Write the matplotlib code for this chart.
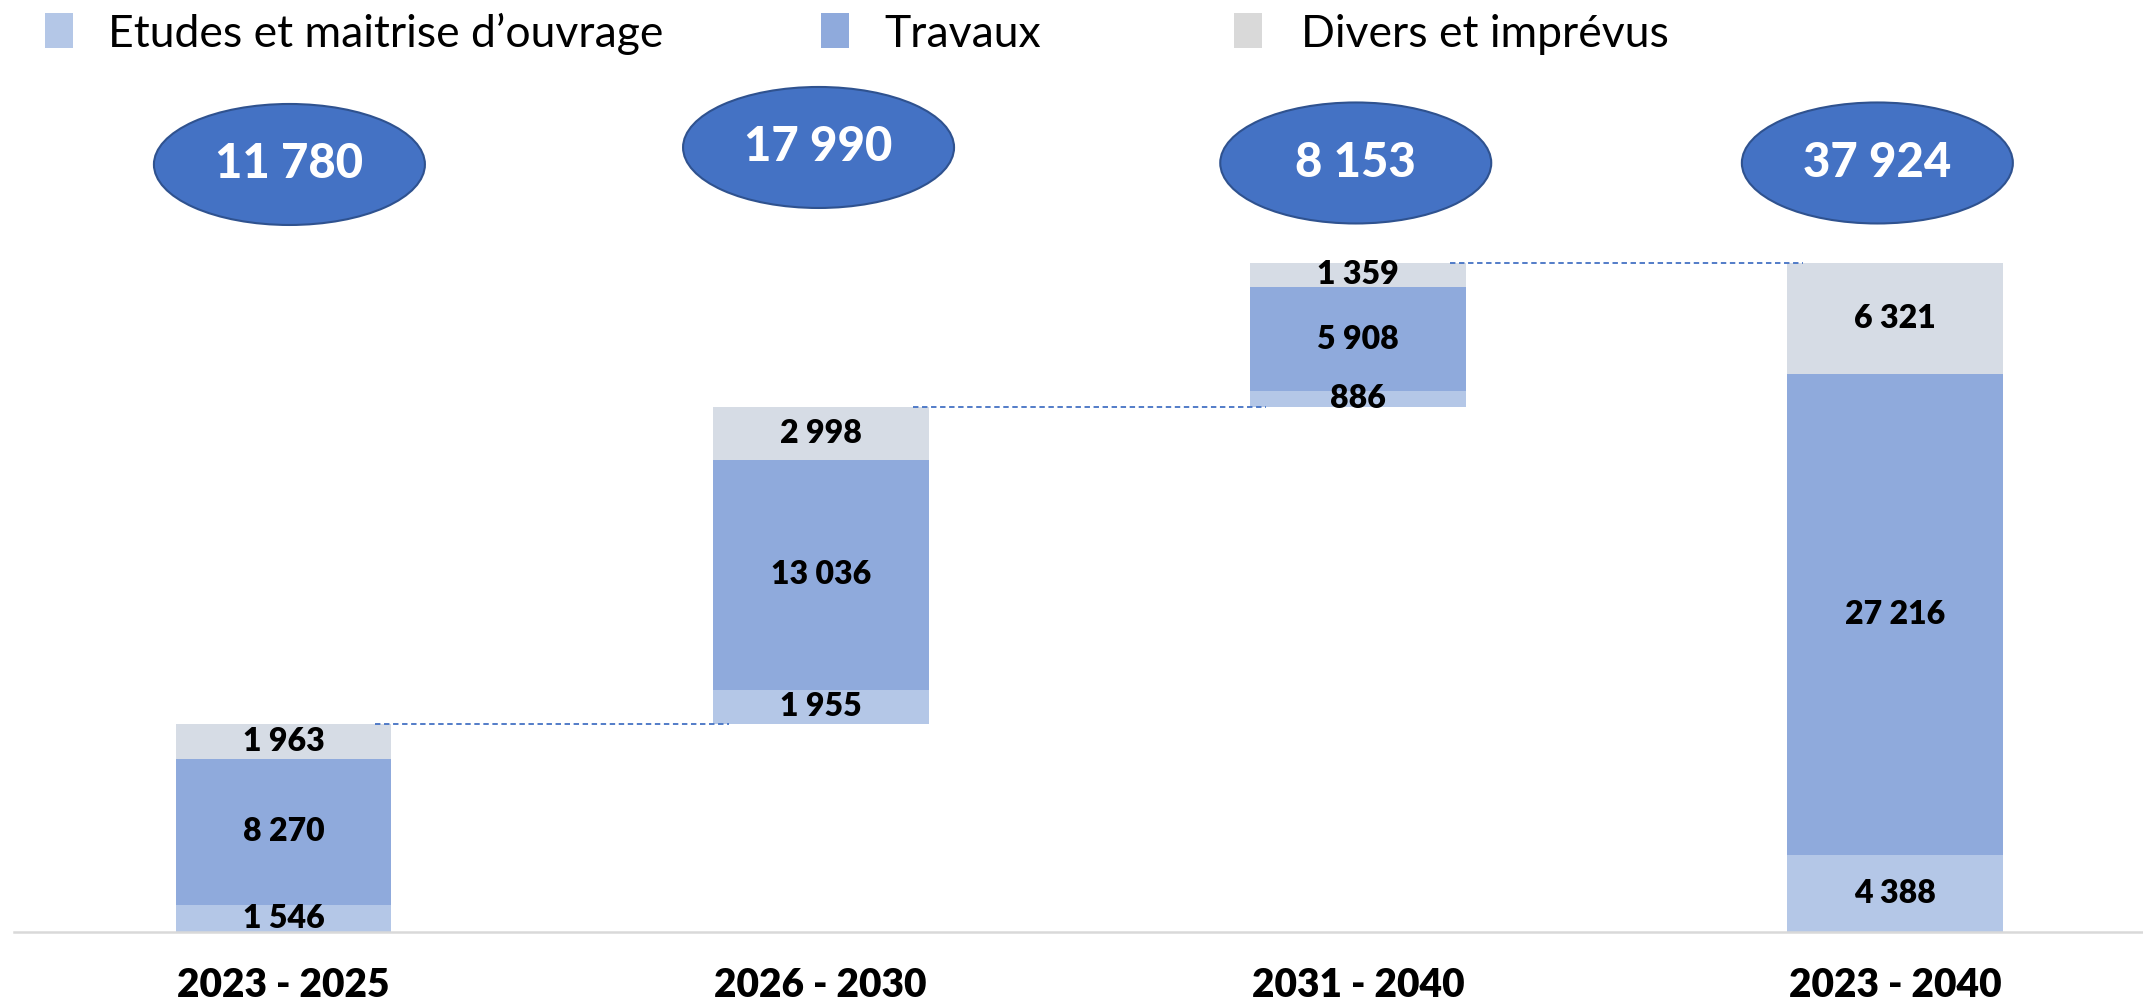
import matplotlib
matplotlib.use('Agg')
import matplotlib.pyplot as plt
from matplotlib.patches import Rectangle, Ellipse

plt.rcParams['font.family'] = ['Lato', 'DejaVu Sans']

# Donnees (k€)
categories = ['2023 - 2025', '2026 - 2030', '2031 - 2040', '2023 - 2040']
etudes = [1546, 1955, 886, 4388]
travaux = [8270, 13036, 5908, 27216]
divers = [1963, 2998, 1359, 6321]
totals = [11780, 17990, 8153, 37924]
legend_labels = ['Etudes et maitrise d\u2019ouvrage', 'Travaux', 'Divers et impr\u00e9vus']

c_etudes = '#B4C7E7'
c_travaux = '#8FAADC'
c_divers = '#D6DCE5'

W, H = 2143, 1005
fig = plt.figure(figsize=(W / 100, H / 100), dpi=100)
ax = fig.add_axes([14 / W, 1 - 932 / H, 1 - 14 / W, 932 / H])

# base de la cascade : cumul pour les periodes, 0 pour le total
bases = [0, totals[0], totals[0] + totals[1], 0]
x = list(range(len(categories)))
w = 0.402

b1 = [b + e for b, e in zip(bases, etudes)]
b2 = [b + t for b, t in zip(b1, travaux)]
ax.bar(x, etudes, w, bottom=bases, color=c_etudes)
ax.bar(x, travaux, w, bottom=b1, color=c_travaux)
ax.bar(x, divers, w, bottom=b2, color=c_divers)

def fmt(v):
    return f'{v:,}'.replace(',', ' ')

for i in x:
    for bottom, val in [(bases[i], etudes[i]), (b1[i], travaux[i]), (b2[i], divers[i])]:
        ax.text(i, bottom + val / 2, fmt(val), ha='center', va='center',
                fontsize=23, fontweight='heavy', color='black')

# lignes de liaison
for i in range(3):
    y = bases[i] + totals[i]
    ax.plot([i + w / 2 - 0.03, i + 1 - w / 2 + 0.03], [y, y], ls=(0, (3, 2)),
            color='#4472C4', lw=1.3)

ax.set_xlim(-0.5017, 3.4615)
ax.set_ylim(0, 52830)
ax.set_xticks([])
ax.set_yticks([])
for s in ['top', 'left', 'right']:
    ax.spines[s].set_visible(False)
ax.spines['bottom'].set_color('#D9D9D9')
ax.spines['bottom'].set_linewidth(1.8)

# etiquettes des periodes
for i, cat in enumerate(categories):
    ax.text(i, -53 / 0.017641, cat, ha='center', va='center', fontsize=28,
            fontweight='heavy', color='black', clip_on=False)

# ellipses avec les totaux
ell_dx = [0.011, -0.004, -0.004, -0.033]
ell_y = [164.5, 147.5, 163, 163]
for i, tot in enumerate(totals):
    cy = (932 - ell_y[i]) / 0.017641
    cx = i + ell_dx[i]
    ax.add_patch(Ellipse((cx, cy), 271 / 537.2, 121 / 0.017641, facecolor='#4472C4',
                         edgecolor='#2F528F', lw=1.5, clip_on=False))
    ax.text(cx, cy, fmt(tot), ha='center', va='center', fontsize=34,
            fontweight='black', color='white')

# legende
leg_sq = [45, 821, 1234]
leg_tx = [108, 884, 1301]
leg_col = [c_etudes, c_travaux, '#D9D9D9']
for sx, tx, col, lab in zip(leg_sq, leg_tx, leg_col, legend_labels):
    fig.add_artist(Rectangle((sx / W, 1 - 48 / H), 28 / W, 35 / H, transform=fig.transFigure,
                             facecolor=col, edgecolor='none'))
    fig.text(tx / W, 1 - 47 / H, lab, ha='left', va='baseline', fontsize=32, color='black')

fig.savefig('out.png', dpi=100)
